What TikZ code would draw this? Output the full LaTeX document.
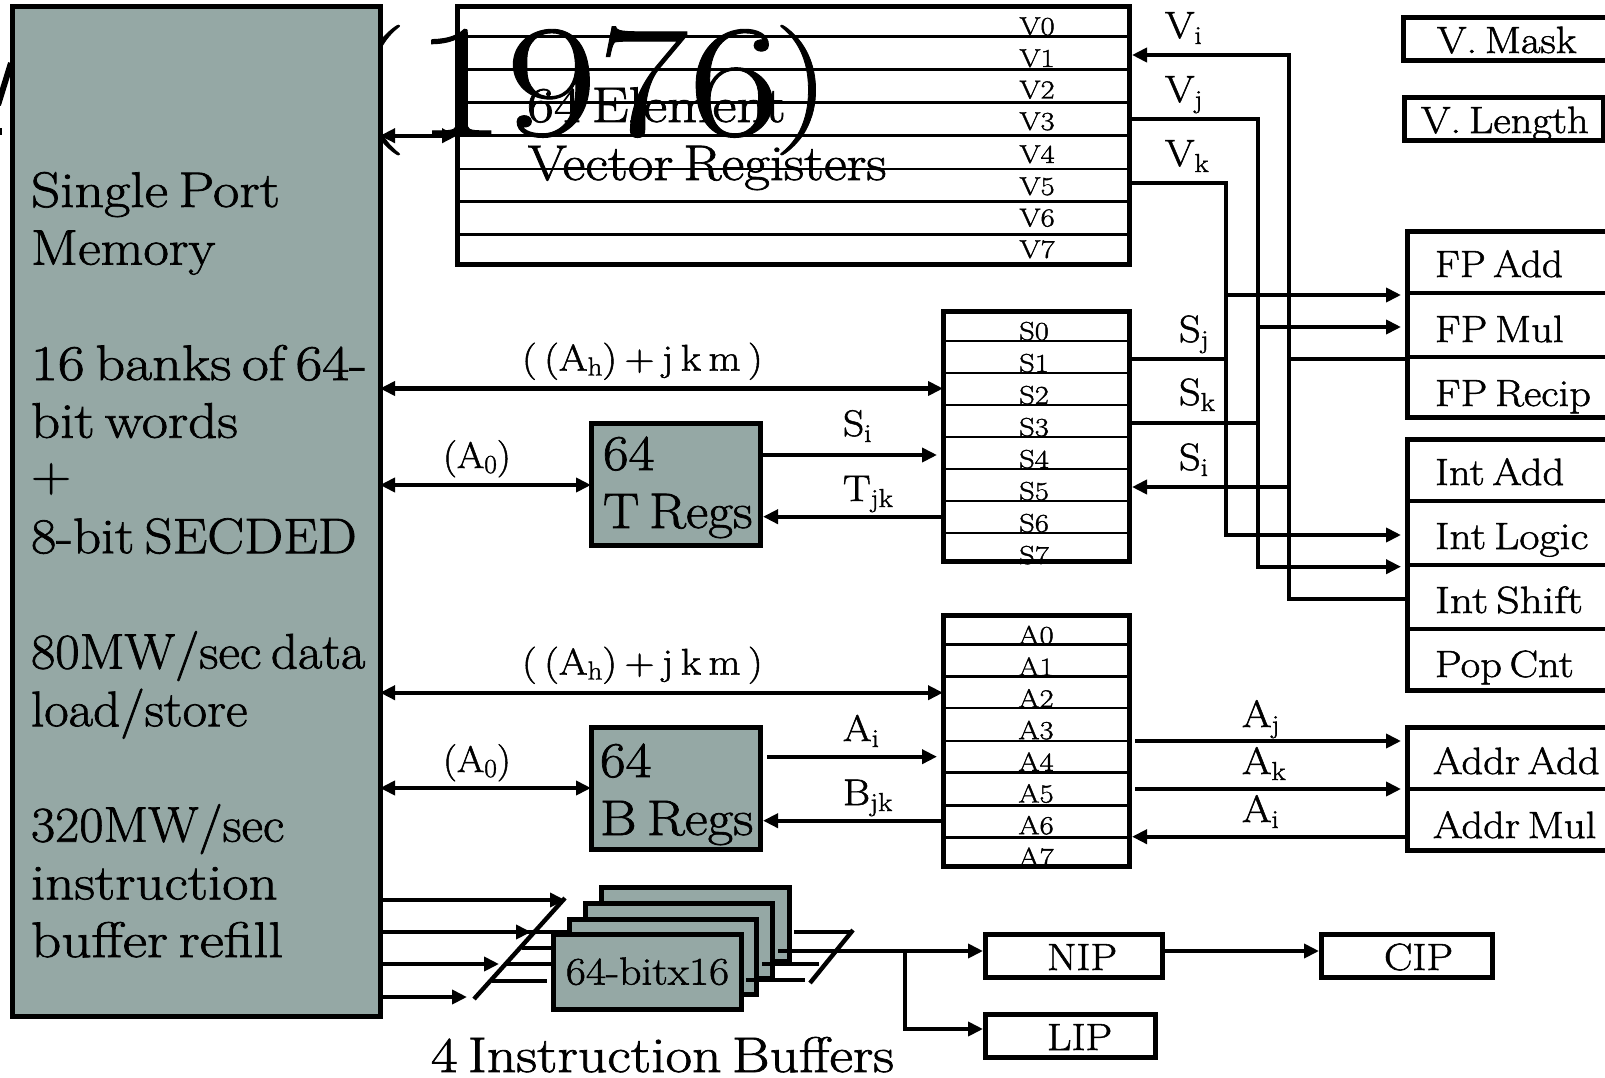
\documentclass[tikz,border=0pt]{standalone}
\usepackage{fontspec}
\setmainfont{Latin Modern Roman}[FakeBold=1.4,FakeStretch=1.12,WordSpace=0.6]
\newfontfamily\yearfont{Latin Modern Roman}[FakeBold=0.6,FakeStretch=1.245]
\usetikzlibrary{arrows.meta}
\definecolor{memfill}{HTML}{95A8A5}
\newcommand\fs[1]{\fontsize{#1}{#1}\selectfont}
\newcommand\sbs[2][6]{\raisebox{-#1pt}{\fs{26}#2}}
\newcommand\sx[2]{\scalebox{#1}[1]{#2}}
\tikzset{
  x=1pt,y=-1pt,
  wire/.style={line width=4.1pt},
  sep/.style={line width=2.6pt},
  secsep/.style={line width=4.2pt},
  arr/.style={wire,-{Triangle[length=15pt,width=14pt]}},
  dbl/.style={wire,{Triangle[length=15pt,width=14pt]}-{Triangle[length=15pt,width=14pt]}},
  boxn/.style={draw,line width=5pt,inner sep=0,outer sep=0,anchor=north west,rectangle},
  gray/.style={boxn,fill=memfill,line width=5pt},
  lab/.style={inner sep=0,outer sep=0,anchor=base west},
  reg/.style={inner sep=0,outer sep=0,anchor=base,font=\fs{26}},
  big/.style={lab,font=\fs{50}},
  unit/.style={lab,font=\fs{38}},
  port/.style={lab,font=\fs{38}},
  addr/.style={lab,font=\fs{37}},
  slash/.style={line width=4.4pt},
}
\begin{document}
\begin{tikzpicture}
\clip (0,0) rectangle (1605,1078);
\fill[white] (0,0) rectangle (1605,1078);

% vector registers
\node[boxn,minimum width=672pt,minimum height=257pt] (vreg) at (457,7) {};
\foreach \y in {36.7,69.3,102.7,135.7,169,201.7,234.3}
  \draw[sep] (vreg.west |- 0,\y) -- (vreg.east |- 0,\y);
\foreach \i/\y in {0/35,1/67,2/98.5,3/130,4/163,5/195,6/226.5,7/258}
  \node[reg] (vl\i) at (1037,\y) {\sx{1.05}{V\i}};

% text behind the memory block
\node[lab,font=\fs{160}\yearfont] (year) at (350,135) {\raisebox{12.5pt}{\fs{130}(}\hspace{7pt}1976\hspace{-7pt}\raisebox{12.5pt}{\fs{130})}};
\draw[line width=6pt] (-2,105) -- (11,63);
\fill (0,128) rectangle (2,135);

% memory
\node[gray,minimum width=367.5pt,minimum height=1009pt] (mem) at (12.5,7) {};
\node[lab,font=\fontsize{50}{57.7}\selectfont,align=left,anchor=north west] (memtext) at (31,172) {\sx{1.025}{Single Port}\\\sx{.99}{Memory}\\\mbox{}\\\sx{1.045}{16 banks of 64-}\\\sx{1.02}{bit words}\\\raisebox{4pt}{+}\\\sx{.985}{8-bit SECDED}\\\mbox{}\\\sx{.945}{80MW/sec data}\\\sx{.95}{load/store}\\\mbox{}\\\sx{.94}{320MW/sec}\\\sx{1.02}{instruction}\\\sx{1.06}{buffer refill}};

\node[big] (vt1) at (527,122) {\sx{1.05}{64 Element}};
\node[big] (vt2) at (528,180) {Vector Registers};
\draw[dbl] (mem.east |- 0,135.7) -- (vreg.west |- 0,135.7);

% S and A registers
\node[boxn,minimum width=186pt,minimum height=250pt] (sreg) at (943,311.5) {};
\foreach \y in {341,373,405,437,469,501,533}
  \draw[sep] (sreg.west |- 0,\y) -- (sreg.east |- 0,\y);
\foreach \i in {0,...,7}
  \node[reg] (sl\i) at (1034,340+32*\i) {\sx{1.05}{S\i}};
\node[boxn,minimum width=186pt,minimum height=251pt] (areg) at (943,615.5) {};
\foreach \y in {644.3,676.7,708,741,772.7,805.7,837.3}
  \draw[sep] (areg.west |- 0,\y) -- (areg.east |- 0,\y);
\foreach \i in {0,...,7}
  \node[reg] (al\i) at (1036,644+31.7*\i) {\sx{1.05}{A\i}};

% T and B registers
\node[gray,minimum width=169pt,minimum height=122pt] (treg) at (591,423.5) {};
\node[big] (tl1) at (603,470) {64};
\node[big] (tl2) at (603,528) {\sx{.97}{T Regs}};
\node[gray,minimum width=169pt,minimum height=122pt] (breg) at (591,727.5) {};
\node[big] (bl1) at (600,777) {64};
\node[big] (bl2) at (600,835) {B Regs};

\draw[dbl] (mem.east |- 0,388.5) -- (sreg.west |- 0,388.5);
\draw[dbl] (mem.east |- 0,485) -- (treg.west |- 0,485);
\draw[arr] (treg.east |- 0,455) -- ([xshift=-6pt]sreg.west |- 0,455);
\draw[arr] (sreg.west |- 0,516.7) -- ([xshift=3pt]treg.east |- 0,516.7);
\draw[dbl] (mem.east |- 0,692.7) -- (areg.west |- 0,692.7);
\draw[dbl] (mem.east |- 0,788) -- (breg.west |- 0,788);
\draw[arr] ([xshift=7pt]breg.east |- 0,756.7) -- ([xshift=-6pt]areg.west |- 0,756.7);
\draw[arr] (areg.west |- 0,820.7) -- ([xshift=3pt]breg.east |- 0,820.7);

\node[addr] (ah1) at (522,370.5) {( (A\sbs[5]{h}) + j k m )};
\node[addr] (ah2) at (522,674.5) {( (A\sbs[5]{h}) + j k m )};
\node[addr] (a01) at (443,468) {\sx{.95}{(A\sbs[5]{0})}};
\node[addr] (a02) at (443,772) {\sx{.95}{(A\sbs[5]{0})}};
\node[addr] (si1) at (843,436) {S\sbs{i}};
\node[addr] (tjk) at (843,501) {T\sbs{jk}};
\node[addr] (ai1) at (843,741) {A\sbs{i}};
\node[addr] (bjk) at (843,805) {B\sbs{jk}};

% functional units
\node[boxn,minimum width=240pt,minimum height=43pt] (vmask) at (1403,18) {};
\node[unit] (vmaskl) at (1437,53) {V. Mask};
\node[boxn,minimum width=199pt,minimum height=43pt] (vlen) at (1404,98) {};
\node[unit] (vlenl) at (1421,133) {V. Length};

\node[boxn,minimum width=240pt,minimum height=186pt] (fp) at (1407,231.7) {};
\draw[secsep] (fp.west |- 0,293) -- (fp.east |- 0,293);
\draw[secsep] (fp.west |- 0,357) -- (fp.east |- 0,357);
\node[unit] (fp1) at (1435,277) {\sx{.97}{FP Add}};
\node[unit] (fp2) at (1435,342) {FP Mul};
\node[unit] (fp3) at (1435,406) {FP Recip};

\node[boxn,minimum width=240pt,minimum height=251pt] (int) at (1407,439) {};
\draw[secsep] (int.west |- 0,500.7) -- (int.east |- 0,500.7);
\draw[secsep] (int.west |- 0,564.7) -- (int.east |- 0,564.7);
\draw[secsep] (int.west |- 0,629) -- (int.east |- 0,629);
\node[unit] (in1) at (1435,485) {Int Add};
\node[unit] (in2) at (1435,549) {\sx{1.03}{Int Logic}};
\node[unit] (in3) at (1435,613) {\sx{1.07}{Int Shift}};
\node[unit] (in4) at (1435,677) {Pop Cnt};

\node[boxn,minimum width=240pt,minimum height=123pt] (adu) at (1407,727) {};
\draw[secsep] (adu.west |- 0,789) -- (adu.east |- 0,789);
\node[unit] (ad1) at (1433,774) {Addr Add};
\node[unit] (ad2) at (1433,838) {Addr Mul};

% register buses
\coordinate (cvi) at (1289,55);
\coordinate (cvj) at (1258,119);
\coordinate (cvk) at (1226,183);
\draw[arr] (int.west |- 0,599) -| (cvi) -- ([xshift=3pt]vreg.east |- cvi);
\draw[wire] (cvi |- 0,359) -- (fp.west |- 0,359);
\draw[arr] (cvi |- 0,487) -- ([xshift=3pt]sreg.east |- 0,487);
\draw[arr] (vreg.east |- cvj) -| ([xshift=0pt]cvj |- 0,566.7) -- ([xshift=-6pt]int.west |- 0,566.7);
\draw[arr] (cvj |- 0,327) -- ([xshift=-6pt]fp.west |- 0,327);
\draw[wire] (sreg.east |- 0,423) -- (cvj |- 0,423);
\draw[arr] (vreg.east |- cvk) -| (cvk |- 0,535) -- ([xshift=-6pt]int.west |- 0,535);
\draw[arr] (cvk |- 0,295) -- ([xshift=-6pt]fp.west |- 0,295);
\draw[wire] (sreg.east |- 0,359) -- (cvk |- 0,359);

\draw[arr] ([xshift=6pt]areg.east |- 0,741) -- ([xshift=-6pt]adu.west |- 0,741);
\draw[arr] ([xshift=6pt]areg.east |- 0,789) -- ([xshift=-6pt]adu.west |- 0,789);
\draw[arr] (adu.west |- 0,836.7) -- ([xshift=3pt]areg.east |- 0,836.7);

\node[port] (lvi) at (1165,38) {V\sbs{i}};
\node[port] (lvj) at (1165,102) {V\sbs{j}};
\node[port] (lvk) at (1165,166) {V\sbs{k}};
\node[port] (lsj) at (1179,342) {S\sbs{j}};
\node[port] (lsk) at (1179,405) {S\sbs{k}};
\node[port] (lsi) at (1179,470) {S\sbs{i}};
\node[port] (laj) at (1242,727) {A\sbs{j}};
\node[port] (lak) at (1242,774) {A\sbs{k}};
\node[port] (lai) at (1242,822) {A\sbs{i}};

% instruction buffers
\coordinate (m1) at (565,900);
\coordinate (m2) at (531,932);
\coordinate (m3) at (499,964);
\coordinate (m4) at (467,997);
\draw[arr] (mem.east |- m1) -- (m1);
\draw[arr] (mem.east |- m2) -- (m2);
\draw[arr] (mem.east |- m3) -- (m3);
\draw[arr] (mem.east |- m4) -- (m4);
\node[gray,minimum width=188pt,minimum height=74pt] (b4) at (601,887) {};
\node[gray,minimum width=187pt,minimum height=75pt] (b3) at (585,903) {};
\node[gray,minimum width=187pt,minimum height=75pt] (b2) at (569,919) {};
\node[gray,minimum width=188pt,minimum height=75pt,font=\fs{39}] (b1) at (553.5,934.5) {\raisebox{2pt}{64-bitx16}};
\coordinate (s1) at (520,932);
\coordinate (s2) at (522,948);
\coordinate (s3) at (506,964);
\coordinate (s4) at (492,981);
\draw[wire] (s1) -- (b2.west |- s1);
\draw[wire] (s2) -- ([xshift=-3pt]b1.west |- s2);
\draw[wire] (s3) -- ([xshift=-3pt]b1.west |- s3);
\draw[wire] (s4) -- ([xshift=-7pt]b1.west |- s4);
\coordinate (sla) at (474,999);
\coordinate (slb) at (565,898);
\draw[slash] (sla) -- (slb);
\coordinate (r1) at (853,932);
\coordinate (r3) at (819,964);
\coordinate (r4) at (805,980);
\draw[wire] ([xshift=5pt]b4.east |- r1) -- (r1);
\draw[wire] ([xshift=-10pt]b3.east |- r3) -- (r3);
\draw[wire] ([xshift=-10pt]b2.east |- r4) -- (r4);
\coordinate (src) at (810,983);
\coordinate (srd) at (853,930);
\draw[slash] (src) -- (srd);

\node[boxn,minimum width=177pt,minimum height=43pt] (nip) at (985,934.5) {};
\node[boxn,minimum width=171pt,minimum height=43pt] (cip) at (1321,934.5) {};
\node[boxn,minimum width=170pt,minimum height=43pt] (lip) at (985,1014) {};
\node[unit] (nipl) at (1047,970) {NIP};
\node[unit] (cipl) at (1384,970) {CIP};
\node[unit] (lipl) at (1047,1050) {LIP};
\coordinate (bj) at (905,951);
\draw[arr] ([xshift=-11pt]b4.east |- bj) -- ([xshift=-2pt]nip.west |- bj);
\draw[arr] (bj) |- ([xshift=-2pt]lip.west |- 0,1029);
\draw[arr] (nip.east |- bj) -- ([xshift=-2pt]cip.west |- bj);
\node[big] (ibl) at (431,1072) {\sx{1.03}{4 Instruction Buffers}};
\end{tikzpicture}
\end{document}
